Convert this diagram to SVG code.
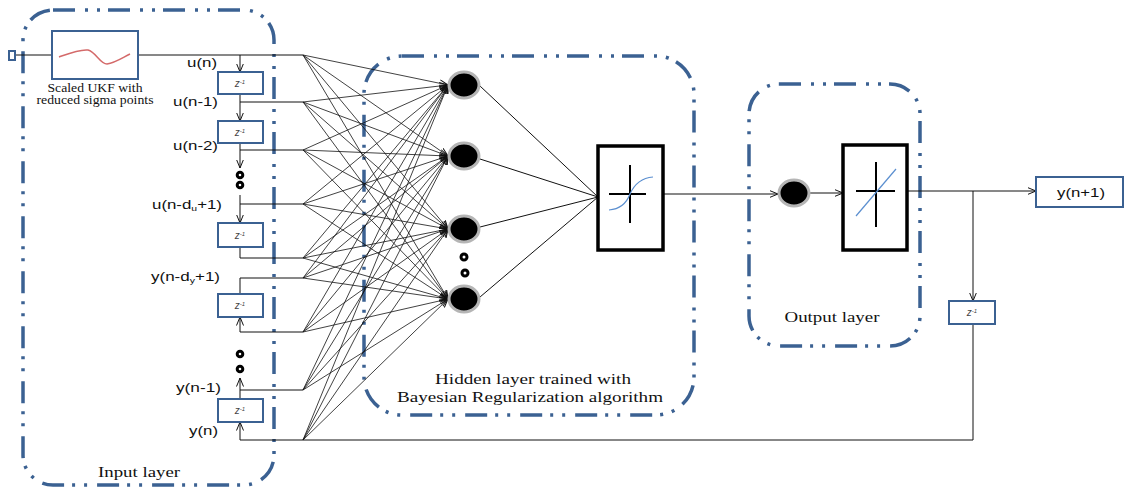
<svg xmlns="http://www.w3.org/2000/svg" width="1125" height="489" viewBox="0 0 1125 489">
<defs>
<marker id="ar" markerWidth="9" markerHeight="8" refX="8.5" refY="4" orient="auto" markerUnits="userSpaceOnUse">
<path d="M0,0.5 L8.5,4 L0,7.5" fill="none" stroke="#111" stroke-width="1"/>
</marker>
<style>
.layer{fill:none;stroke:#3B6192;stroke-width:3.5;stroke-dasharray:22 10 3 9 3 8}
.bb{fill:#fff;stroke:#3B6192;stroke-width:2}
.ln{fill:none;stroke:#111;stroke-width:1}
.fan{fill:none;stroke:#111;stroke-width:0.8;marker-end:url(#ar)}
.arr{marker-end:url(#ar)}
.act{fill:#fff;stroke:#000;stroke-width:3.5}
.node{fill:#000;stroke:#b5b5b5;stroke-width:3}
.dot{fill:#fff;stroke:#000;stroke-width:3}
.sans{font-family:"Liberation Sans",Arial,sans-serif;font-size:13px;fill:#111}
.serif{font-family:"Liberation Serif","Times New Roman",serif;fill:#111}
.z{font-family:"Liberation Sans",Arial,sans-serif;font-size:10px;font-style:italic;fill:#444}
</style>
</defs>

<g id="input-layer">
<rect class="layer" x="23" y="10" width="251" height="475" rx="30"/>
<text class="serif" x="139" y="477" font-size="15" text-anchor="middle" textLength="82" lengthAdjust="spacingAndGlyphs">Input layer</text>
</g>
<g id="hidden-layer">
<rect class="layer" x="364" y="56" width="330" height="359" rx="38"/>
<text class="serif" x="533" y="384" font-size="15" text-anchor="middle" textLength="196" lengthAdjust="spacingAndGlyphs">Hidden layer trained with</text>
<text class="serif" x="530" y="402" font-size="15" text-anchor="middle" textLength="266" lengthAdjust="spacingAndGlyphs">Bayesian Regularization algorithm</text>
</g>
<g id="output-layer">
<rect class="layer" x="749" y="84" width="171" height="262" rx="30"/>
<text class="serif" x="832" y="322" font-size="14" text-anchor="middle" textLength="95" lengthAdjust="spacingAndGlyphs">Output layer</text>
</g>

<g id="connectors">
<line class="ln" x1="15" y1="55" x2="52" y2="55"/>
<line class="ln" x1="138" y1="55" x2="303" y2="55"/>
<line class="ln arr" x1="240" y1="55" x2="240" y2="72"/>
<line class="ln arr" x1="240" y1="94" x2="240" y2="121"/>
<line class="ln" x1="240" y1="102" x2="303" y2="102"/>
<line class="ln arr" x1="240" y1="143" x2="240" y2="168"/>
<line class="ln" x1="240" y1="150" x2="303" y2="150"/>
<line class="ln arr" x1="240" y1="195" x2="240" y2="223"/>
<line class="ln" x1="240" y1="204" x2="303" y2="204"/>
<polyline class="ln" points="240,247 240,258 303,258"/>
<polyline class="ln" points="240,294 240,278 303,278"/>
<line class="ln arr" x1="240" y1="332" x2="240" y2="317"/>
<line class="ln" x1="240" y1="332" x2="303" y2="332"/>
<line class="ln arr" x1="240" y1="399" x2="240" y2="378"/>
<line class="ln" x1="240" y1="390" x2="303" y2="390"/>
<line class="ln arr" x1="240" y1="440" x2="240" y2="422"/>
<polyline class="ln" points="240,440 973,440 973,324"/>
<line class="ln arr" x1="973" y1="191" x2="973" y2="301"/>
<g id="fan">
<path class="fan" d="M303,55 L448,85"/><path class="fan" d="M303,55 L448,156"/><path class="fan" d="M303,55 L448,229"/><path class="fan" d="M303,55 L448,299"/>
<path class="fan" d="M303,102 L448,85"/><path class="fan" d="M303,102 L448,156"/><path class="fan" d="M303,102 L448,229"/><path class="fan" d="M303,102 L448,299"/>
<path class="fan" d="M303,150 L448,85"/><path class="fan" d="M303,150 L448,156"/><path class="fan" d="M303,150 L448,229"/><path class="fan" d="M303,150 L448,299"/>
<path class="fan" d="M303,204 L448,85"/><path class="fan" d="M303,204 L448,156"/><path class="fan" d="M303,204 L448,229"/><path class="fan" d="M303,204 L448,299"/>
<path class="fan" d="M303,258 L448,85"/><path class="fan" d="M303,258 L448,156"/><path class="fan" d="M303,258 L448,229"/><path class="fan" d="M303,258 L448,299"/>
<path class="fan" d="M303,278 L448,85"/><path class="fan" d="M303,278 L448,156"/><path class="fan" d="M303,278 L448,229"/><path class="fan" d="M303,278 L448,299"/>
<path class="fan" d="M303,332 L448,85"/><path class="fan" d="M303,332 L448,156"/><path class="fan" d="M303,332 L448,229"/><path class="fan" d="M303,332 L448,299"/>
<path class="fan" d="M303,390 L448,85"/><path class="fan" d="M303,390 L448,156"/><path class="fan" d="M303,390 L448,229"/><path class="fan" d="M303,390 L448,299"/>
<path class="fan" d="M303,440 L448,85"/><path class="fan" d="M303,440 L448,156"/><path class="fan" d="M303,440 L448,229"/><path class="fan" d="M303,440 L448,299"/>
</g>
<line class="ln" x1="480" y1="86" x2="598" y2="197"/>
<line class="ln" x1="480" y1="159" x2="598" y2="197"/>
<line class="ln" x1="480" y1="227" x2="598" y2="197"/>
<line class="ln" x1="480" y1="297" x2="598" y2="197"/>
<line class="ln arr" x1="663" y1="194" x2="778" y2="194"/>
<line class="ln arr" x1="810" y1="193" x2="843" y2="193"/>
<line class="ln arr" x1="907" y1="191" x2="1036" y2="191"/>
</g>

<g id="input-port"><rect x="9" y="51" width="6" height="9" fill="#fff" stroke="#3B6192" stroke-width="2"/></g>
<g id="ukf">
<rect class="bb" x="52" y="31" width="86" height="48"/>
<path d="M59,57 C70,53 80,49 88,50 C96,52 100,64 107,64 C115,63 122,58 130,54" fill="none" stroke="#d46a6a" stroke-width="1.5"/>
<text class="serif" x="95" y="92" font-size="12" text-anchor="middle" textLength="95" lengthAdjust="spacingAndGlyphs">Scaled UKF with</text>
<text class="serif" x="95" y="104" font-size="12" text-anchor="middle" textLength="117" lengthAdjust="spacingAndGlyphs">reduced sigma points</text>
</g>

<g id="delay1"><rect class="bb" x="218" y="72" width="45" height="22"/><text class="z" x="240" y="87" text-anchor="middle">z<tspan font-size="6" dy="-3">-1</tspan></text></g>
<g id="delay2"><rect class="bb" x="218" y="121" width="45" height="22"/><text class="z" x="240" y="136" text-anchor="middle">z<tspan font-size="6" dy="-3">-1</tspan></text></g>
<g id="delay3"><rect class="bb" x="218" y="223" width="45" height="24"/><text class="z" x="240" y="239" text-anchor="middle">z<tspan font-size="6" dy="-3">-1</tspan></text></g>
<g id="delay4"><rect class="bb" x="218" y="294" width="45" height="23"/><text class="z" x="240" y="309" text-anchor="middle">z<tspan font-size="6" dy="-3">-1</tspan></text></g>
<g id="delay5"><rect class="bb" x="218" y="399" width="45" height="23"/><text class="z" x="240" y="414" text-anchor="middle">z<tspan font-size="6" dy="-3">-1</tspan></text></g>
<g id="delay-out"><rect class="bb" x="949" y="301" width="46" height="23"/><text class="z" x="972" y="316" text-anchor="middle">z<tspan font-size="6" dy="-3">-1</tspan></text></g>

<g id="input-dots">
<circle class="dot" cx="240" cy="175" r="2.8"/><circle class="dot" cx="240" cy="185" r="2.8"/>
<circle class="dot" cx="240" cy="354" r="2.8"/><circle class="dot" cx="240" cy="369" r="2.8"/>
</g>

<g id="labels">
<text class="sans" x="187" y="67" textLength="30" lengthAdjust="spacingAndGlyphs">u(n)</text>
<text class="sans" x="173" y="106" textLength="45" lengthAdjust="spacingAndGlyphs">u(n-1)</text>
<text class="sans" x="173" y="150" textLength="45" lengthAdjust="spacingAndGlyphs">u(n-2)</text>
<text class="sans" x="152" y="209" textLength="70" lengthAdjust="spacingAndGlyphs">u(n-d<tspan font-size="8" dy="2">u</tspan><tspan dy="-2">+1)</tspan></text>
<text class="sans" x="151" y="281" textLength="69" lengthAdjust="spacingAndGlyphs">y(n-d<tspan font-size="8" dy="2">y</tspan><tspan dy="-2">+1)</tspan></text>
<text class="sans" x="176" y="392" textLength="45" lengthAdjust="spacingAndGlyphs">y(n-1)</text>
<text class="sans" x="189" y="435" textLength="29" lengthAdjust="spacingAndGlyphs">y(n)</text>
</g>

<g id="hidden-nodes">
<ellipse class="node" cx="464" cy="85" rx="15" ry="13"/>
<ellipse class="node" cx="464" cy="156" rx="15" ry="13"/>
<ellipse class="node" cx="464" cy="229" rx="15" ry="13"/>
<ellipse class="node" cx="464" cy="299" rx="15" ry="13"/>
<circle class="dot" cx="464" cy="257" r="3"/><circle class="dot" cx="465" cy="273" r="3"/>
</g>

<g id="hidden-activation">
<rect class="act" x="598" y="146" width="65" height="104"/>
<line x1="609" y1="194" x2="646" y2="194" stroke="#000" stroke-width="2"/>
<line x1="630" y1="165" x2="630" y2="223" stroke="#000" stroke-width="2"/>
<path d="M609,210 C622,209 627,202 630,194 C634,185 640,178 653,177" fill="none" stroke="#5b8fd0" stroke-width="1.2"/>
</g>

<g id="output-node"><ellipse class="node" cx="794" cy="193" rx="15" ry="13"/></g>
<g id="output-activation">
<rect class="act" x="843" y="145" width="64" height="105"/>
<line x1="856" y1="191" x2="895" y2="191" stroke="#000" stroke-width="2"/>
<line x1="876" y1="162" x2="876" y2="227" stroke="#000" stroke-width="2"/>
<line x1="856" y1="216" x2="896" y2="169" stroke="#5b8fd0" stroke-width="1.2"/>
</g>

<g id="output-y">
<rect class="bb" x="1036" y="177" width="87" height="30"/>
<text class="sans" x="1081" y="197" text-anchor="middle" textLength="48" lengthAdjust="spacingAndGlyphs">y(n+1)</text>
</g>
</svg>
